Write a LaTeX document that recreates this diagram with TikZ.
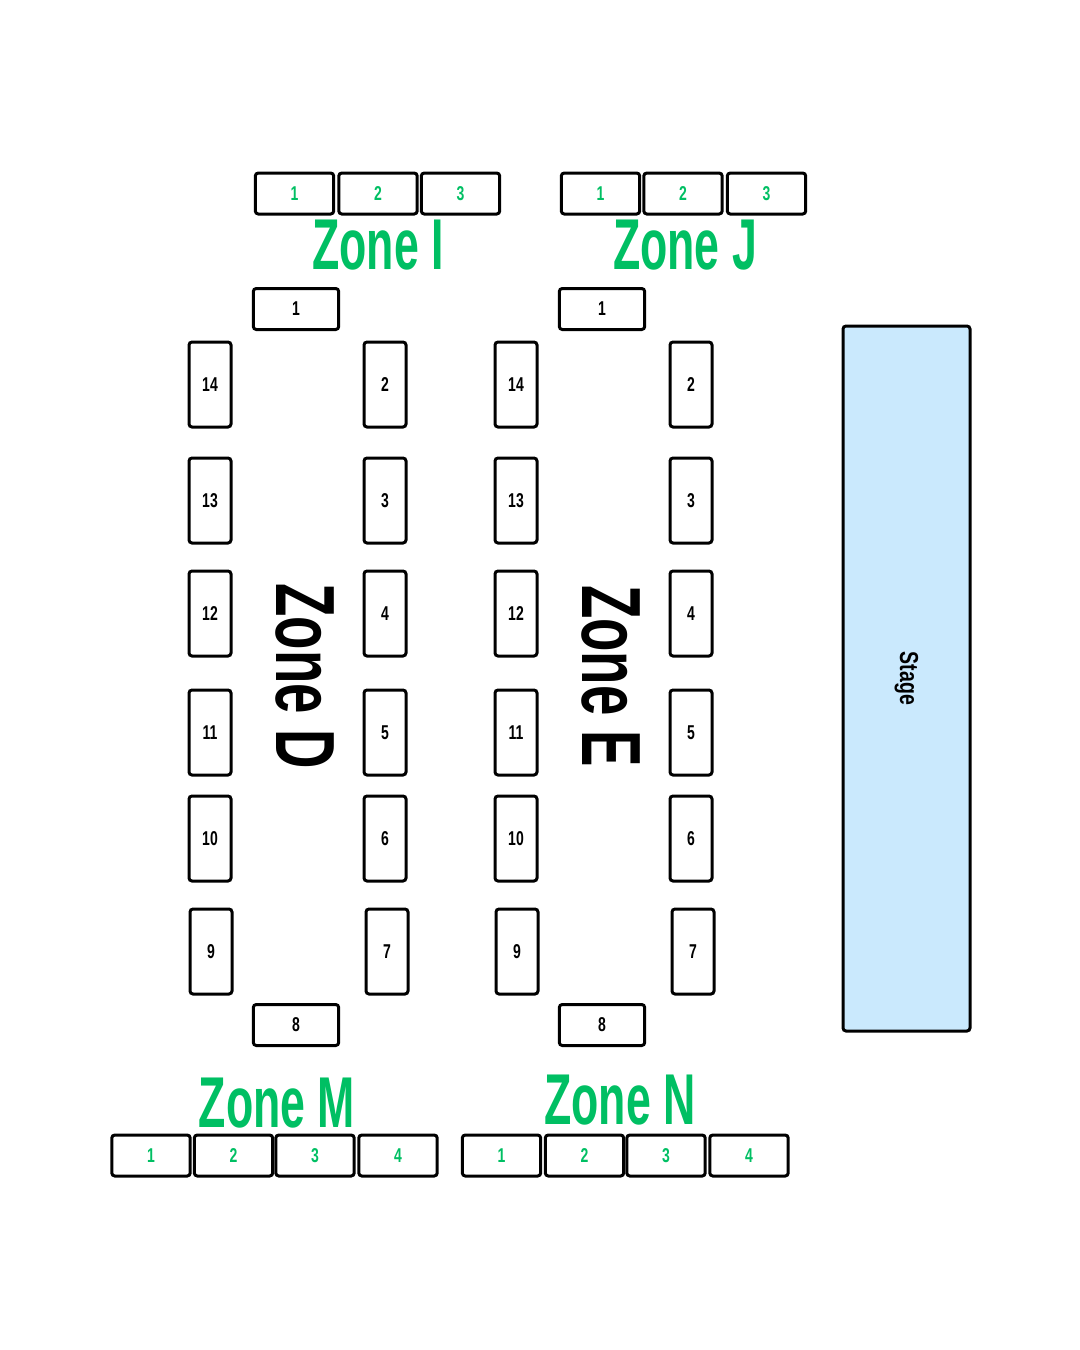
\documentclass[tikz,border=0pt]{standalone}
\usepackage{fontspec}
\setmainfont{Liberation Sans}
\definecolor{zonegreen}{HTML}{00BF63}
\definecolor{stageblue}{HTML}{CAE9FD}
\tikzset{
  seat/.style={draw, line width=1.5pt, rounded corners=1.5pt, inner sep=0pt,
    font=\fontsize{10}{10}\selectfont\bfseries, xscale=0.7},
  vseat/.style={seat, minimum width=30pt, minimum height=42.5pt},
  hseat/.style={seat, minimum width=61pt, minimum height=20.5pt},
  zonelabel/.style={font=\fontsize{36}{36}\selectfont\bfseries, xscale=0.62, inner sep=0pt},
}
\begin{document}
\begin{tikzpicture}[x=0.5pt, y=-0.5pt]
  \useasboundingbox (0,0) rectangle (1080,1350);

  % top rows
  \foreach \x [count=\i] in {294.5,378,460.5}
    \node [hseat, text=zonegreen, minimum width=56pt] (i\i) at (\x,193.5) {\i};
  \foreach \x [count=\i] in {600.5,683,766.5}
    \node [hseat, text=zonegreen, minimum width=56pt] (j\i) at (\x,193.5) {\i};
  \node [zonelabel, text=zonegreen] (zonei) at (378,245) {Zone I};
  \node [zonelabel, text=zonegreen] (zonej) at (685,245) {Zone J};

  % zones D and E
  \foreach \z/\dx/\n in {d/0/D, e/306/E} {
    \node [hseat] (\z1) at (296+\dx,309) {1};
    \node [hseat] (\z8) at (296+\dx,1025) {8};
    \foreach \yy/\l/\r in {384.5/14/2, 500.5/13/3, 613.5/12/4, 732.5/11/5, 838.5/10/6} {
      \node [vseat] (\z\l) at (210+\dx,\yy) {\l};
      \node [vseat] (\z\r) at (385+\dx,\yy) {\r};
    }
    \node [vseat] (\z9) at (211+\dx,951.5) {9};
    \node [vseat] (\z7) at (387+\dx,951.5) {7};
    \node [font=\fontsize{42}{42}\selectfont\bfseries, rotate=-90, xscale=0.65, inner sep=0pt]
      (zone\z) at (305+\dx,676) {Zone \n};
  }

  % stage
  \node [draw, line width=1.5pt, rounded corners=1.5pt, fill=stageblue,
    minimum width=63.5pt, minimum height=352.5pt, inner sep=0pt] (stage) at (906.5,678.5) {};
  \node [rotate=-90, font=\fontsize{13}{13}\selectfont\bfseries, xscale=0.75] (stagelbl) at (stage.center) {Stage};

  % bottom rows
  \foreach \x [count=\i] in {151,233.5,315,398}
    \node [hseat, text=zonegreen, minimum width=56pt] (m\i) at (\x,1155.5) {\i};
  \foreach \x [count=\i] in {501.5,584.5,666,749}
    \node [hseat, text=zonegreen, minimum width=56pt] (n\i) at (\x,1155.5) {\i};
  \node [zonelabel, text=zonegreen] (zonem) at (277,1103) {Zone M};
  \node [zonelabel, text=zonegreen] (zonen) at (620,1100) {Zone N};
\end{tikzpicture}
\end{document}
